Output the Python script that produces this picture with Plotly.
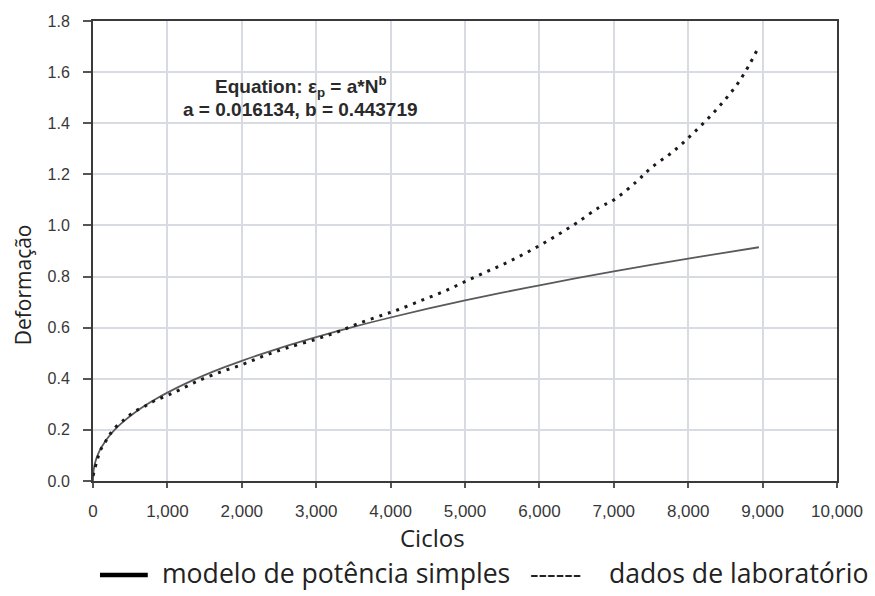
import numpy as np
import plotly.graph_objects as go

# Fitted power model coefficients (epsilon_p = a * N^b)
coef_a = 0.016134
coef_b = 0.443719

# Cycle counts where the fitted model is evaluated
model_cycles = [0, 5, 10, 20, 40, 70, 100, 150, 200, 300, 400, 550, 700, 850, 1000,
                1250, 1500, 1750, 2000, 2500, 3000, 3500, 4000, 4500, 5000, 5500,
                6000, 6500, 7000, 7500, 8000, 8500, 8950]

# Laboratory measurements
lab_cycles = [0, 50, 100, 180, 270, 420, 550, 700, 830, 1000, 1150, 1400, 1700,
              2000, 2300, 2600, 3000, 3300, 3600, 3900, 4100, 4400, 4700, 5000,
              5300, 5600, 5900, 6200, 6500, 6800, 7000, 7300, 7500, 7800, 8100,
              8400, 8700, 8950]
lab_strain = [0.02, 0.075, 0.12, 0.16, 0.20, 0.24, 0.27, 0.293, 0.314, 0.335,
              0.355, 0.39, 0.425, 0.455, 0.49, 0.52, 0.555, 0.585, 0.62, 0.65,
              0.67, 0.705, 0.74, 0.78, 0.82, 0.86, 0.905, 0.955, 1.01, 1.07,
              1.10, 1.17, 1.225, 1.29, 1.37, 1.46, 1.57, 1.70]

x_ticks = [0, 1000, 2000, 3000, 4000, 5000, 6000, 7000, 8000, 9000, 10000]
y_ticks = [0.0, 0.2, 0.4, 0.6, 0.8, 1.0, 1.2, 1.4, 1.6, 1.8]

model_strain = coef_a * np.power(np.array(model_cycles, dtype=float), coef_b)

fig = go.Figure()
fig.add_trace(go.Scatter(
    x=model_cycles, y=model_strain, mode="lines",
    line=dict(color="#5a5a5a", width=1.8, shape="spline"),
    name="modelo de potência simples", showlegend=False))
fig.add_trace(go.Scatter(
    x=lab_cycles, y=lab_strain, mode="lines",
    line=dict(color="#1a1a1a", width=3, dash="3px,6px", shape="spline"),
    name="dados de laboratório", showlegend=False))

axis_common = dict(showline=True, mirror=True, linecolor="#3a3a3a", linewidth=2,
                   showgrid=True, gridcolor="#d8dbe2", gridwidth=1.5,
                   ticks="outside", tickcolor="#555555", tickwidth=1.5,
                   zeroline=False)

fig.update_layout(
    width=875, height=596,
    margin=dict(l=93, r=35, t=21, b=115),
    paper_bgcolor="white", plot_bgcolor="white",
    xaxis=dict(range=[0, 10000], tickvals=x_ticks,
               ticktext=[f"{v:,}" for v in x_ticks], ticklen=5,
               ticklabelstandoff=9,
               tickfont=dict(family="Liberation Sans, Arial", size=17, color="#383838"),
               **axis_common),
    yaxis=dict(range=[0, 1.8], tickvals=y_ticks,
               ticktext=[f"{v:.1f}" for v in y_ticks], ticklen=8,
               ticklabelstandoff=10,
               tickfont=dict(family="Liberation Sans, Arial", size=16, color="#383838"),
               **axis_common),
)


def px_x(px):
    return (px - 93) / 747


def px_y(py):
    return (481 - py) / 460


# Equation box
eq_font = dict(family="Liberation Sans, Arial", size=19, color="#2a2a2a")
fig.add_annotation(x=2800, y=1.545, xref="x", yref="y", showarrow=False,
                   text="<b>Equation: ε<sub>p</sub> = a*N<sup>b</sup></b>", font=eq_font)
fig.add_annotation(x=2795, y=1.455, xref="x", yref="y", showarrow=False,
                   text="<b>a = 0.016134, b = 0.443719</b>", font=eq_font)

# Axis titles
fig.add_annotation(x=px_x(23), y=px_y(285), xref="paper", yref="paper",
                   showarrow=False, text="Deformação", textangle=-90,
                   font=dict(family="Open Sans", size=21, color="#222222"),
                   xanchor="center", yanchor="middle")
fig.add_annotation(x=px_x(434), y=px_y(537), xref="paper", yref="paper",
                   showarrow=False, text="Ciclos",
                   font=dict(family="Open Sans", size=24, color="#222222"),
                   xanchor="center", yanchor="middle")

# Legend row
fig.add_shape(type="line", xref="paper", yref="paper",
              x0=px_x(100), x1=px_x(148), y0=px_y(575), y1=px_y(575),
              line=dict(color="black", width=4.5))
legend_font = dict(family="Open Sans", size=26.6, color="#222222")
fig.add_annotation(x=px_x(160), y=px_y(573), xref="paper", yref="paper",
                   showarrow=False, text="modelo de potência simples",
                   font=legend_font, xanchor="left", yanchor="middle")
fig.add_annotation(x=px_x(530), y=px_y(573), xref="paper", yref="paper",
                   showarrow=False, text="------\u00a0\u00a0\u00a0 dados de laboratório",
                   font=legend_font, xanchor="left", yanchor="middle")

fig.write_html("out.html")
